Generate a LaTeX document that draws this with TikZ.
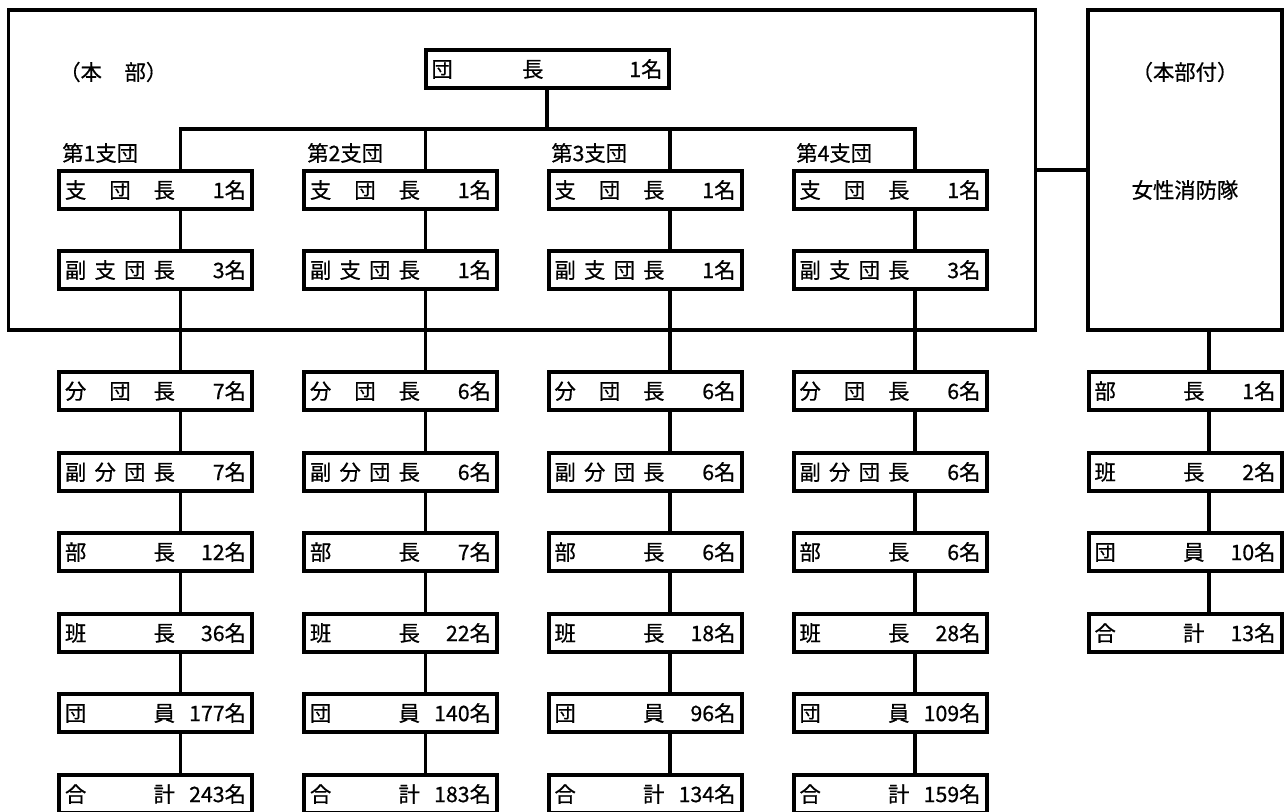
\documentclass[tikz,border=0pt]{standalone}
\usepackage{fontspec}
\setmainfont[FakeBold=0.6]{Noto Sans CJK JP}
\usepackage{tikz}

\tikzset{
  yakubox/.style={draw, line width=3pt, minimum width=144.75pt, minimum height=28.5pt, inner xsep=4.5pt, inner ysep=0pt},
  honbubox/.style={draw, line width=2.4pt, inner sep=0pt, minimum height=240pt},
  link/.style={line width=2.4pt},
  midashi/.style={anchor=west, inner sep=0pt}
}
% label on the left, number on the right
\newcommand{\yaku}[2]{\hbox to 135.75pt{\hbox to 82.5pt{#1}\hfill #2}}

\begin{document}
\begin{tikzpicture}[x=0.75pt,y=-0.75pt,font=\fontsize{16pt}{19pt}\selectfont]
        \useasboundingbox (0,0) rectangle (1285,811);
        % frames
        \node[honbubox, minimum width=770.6pt] (honbu) at (522,170) {};
        \node[honbubox, minimum width=145.5pt] (fuzoku) at (1185,170) {};
        \node[midashi] (honbulbl) at (59,72) {（本\hspace{17pt}部）};
        \node (fuzokulbl) at (1185,72) {（本部付）};
        \node (josei) at (1185,190) {女性消防隊};
        \node[yakubox, minimum width=182.25pt] (dancho) at (547,69)
            {\hbox to 173.25pt{\hbox to 84pt{団\hfill 長}\hfill 1名}};
        % branch titles
        \node[midashi] (sidan1) at (62,153) {第1支団};
        \node[midashi] (sidan2) at (307,153) {第2支団};
        \node[midashi] (sidan3) at (551,153) {第3支団};
        \node[midashi] (sidan4) at (796,153) {第4支団};
        % 1st
        \node[yakubox] (shi1) at (155.5,190) {\yaku{支\hfill 団\hfill 長}{1名}};
        \node[yakubox] (fuku1) at (155.5,270) {\yaku{副\hfill 支\hfill 団\hfill 長}{3名}};
        \node[yakubox] (bun1) at (155.5,391) {\yaku{分\hfill 団\hfill 長}{7名}};
        \node[yakubox] (fukubun1) at (155.5,472) {\yaku{副\hfill 分\hfill 団\hfill 長}{7名}};
        \node[yakubox] (bucho1) at (155.5,552) {\yaku{部\hfill 長}{12名}};
        \node[yakubox] (hancho1) at (155.5,633) {\yaku{班\hfill 長}{36名}};
        \node[yakubox] (danin1) at (155.5,713) {\yaku{団\hfill 員}{177名}};
        \node[yakubox] (gokei1) at (155.5,794) {\yaku{合\hfill 計}{243名}};
        % 2nd
        \node[yakubox] (shi2) at (400.5,190) {\yaku{支\hfill 団\hfill 長}{1名}};
        \node[yakubox] (fuku2) at (400.5,270) {\yaku{副\hfill 支\hfill 団\hfill 長}{1名}};
        \node[yakubox] (bun2) at (400.5,391) {\yaku{分\hfill 団\hfill 長}{6名}};
        \node[yakubox] (fukubun2) at (400.5,472) {\yaku{副\hfill 分\hfill 団\hfill 長}{6名}};
        \node[yakubox] (bucho2) at (400.5,552) {\yaku{部\hfill 長}{7名}};
        \node[yakubox] (hancho2) at (400.5,633) {\yaku{班\hfill 長}{22名}};
        \node[yakubox] (danin2) at (400.5,713) {\yaku{団\hfill 員}{140名}};
        \node[yakubox] (gokei2) at (400.5,794) {\yaku{合\hfill 計}{183名}};
        % 3rd
        \node[yakubox] (shi3) at (645,190) {\yaku{支\hfill 団\hfill 長}{1名}};
        \node[yakubox] (fuku3) at (645,270) {\yaku{副\hfill 支\hfill 団\hfill 長}{1名}};
        \node[yakubox] (bun3) at (645,391) {\yaku{分\hfill 団\hfill 長}{6名}};
        \node[yakubox] (fukubun3) at (645,472) {\yaku{副\hfill 分\hfill 団\hfill 長}{6名}};
        \node[yakubox] (bucho3) at (645,552) {\yaku{部\hfill 長}{6名}};
        \node[yakubox] (hancho3) at (645,633) {\yaku{班\hfill 長}{18名}};
        \node[yakubox] (danin3) at (645,713) {\yaku{団\hfill 員}{96名}};
        \node[yakubox] (gokei3) at (645,794) {\yaku{合\hfill 計}{134名}};
        % 4th
        \node[yakubox] (shi4) at (890,190) {\yaku{支\hfill 団\hfill 長}{1名}};
        \node[yakubox] (fuku4) at (890,270) {\yaku{副\hfill 支\hfill 団\hfill 長}{3名}};
        \node[yakubox] (bun4) at (890,391) {\yaku{分\hfill 団\hfill 長}{6名}};
        \node[yakubox] (fukubun4) at (890,472) {\yaku{副\hfill 分\hfill 団\hfill 長}{6名}};
        \node[yakubox] (bucho4) at (890,552) {\yaku{部\hfill 長}{6名}};
        \node[yakubox] (hancho4) at (890,633) {\yaku{班\hfill 長}{28名}};
        \node[yakubox] (danin4) at (890,713) {\yaku{団\hfill 員}{109名}};
        \node[yakubox] (gokei4) at (890,794) {\yaku{合\hfill 計}{159名}};
        % women's unit
        \node[yakubox] (jbucho) at (1185,391) {\yaku{部\hfill 長}{1名}};
        \node[yakubox] (jhancho) at (1185,472) {\yaku{班\hfill 長}{2名}};
        \node[yakubox] (jdanin) at (1185,552) {\yaku{団\hfill 員}{10名}};
        \node[yakubox] (jgokei) at (1185,633) {\yaku{合\hfill 計}{13名}};

        % lines
        \coordinate (bar1) at (180.5,129);
        \coordinate (bar2) at (425.5,129);
        \coordinate (bar3) at (670,129);
        \coordinate (bar4) at (915,129);
        \draw[link] (dancho.south) -- (dancho.south |- bar1);
        \draw[link] ([xshift=18.75pt]shi1.north) -- (bar1) -- (bar4) -- ([xshift=18.75pt]shi4.north);
        \draw[link] (bar2) -- ([xshift=18.75pt]shi2.north);
        \draw[link] (bar3) -- ([xshift=18.75pt]shi3.north);
        \draw[link] ([xshift=18.75pt]shi1.south) -- ([xshift=18.75pt]fuku1.north)
                    ([xshift=18.75pt]fuku1.south) -- ([xshift=18.75pt]bun1.north)
                    ([xshift=18.75pt]bun1.south) -- ([xshift=18.75pt]fukubun1.north)
                    ([xshift=18.75pt]fukubun1.south) -- ([xshift=18.75pt]bucho1.north)
                    ([xshift=18.75pt]bucho1.south) -- ([xshift=18.75pt]hancho1.north)
                    ([xshift=18.75pt]hancho1.south) -- ([xshift=18.75pt]danin1.north)
                    ([xshift=18.75pt]danin1.south) -- ([xshift=18.75pt]gokei1.north);
        \draw[link] ([xshift=18.75pt]shi2.south) -- ([xshift=18.75pt]fuku2.north)
                    ([xshift=18.75pt]fuku2.south) -- ([xshift=18.75pt]bun2.north)
                    ([xshift=18.75pt]bun2.south) -- ([xshift=18.75pt]fukubun2.north)
                    ([xshift=18.75pt]fukubun2.south) -- ([xshift=18.75pt]bucho2.north)
                    ([xshift=18.75pt]bucho2.south) -- ([xshift=18.75pt]hancho2.north)
                    ([xshift=18.75pt]hancho2.south) -- ([xshift=18.75pt]danin2.north)
                    ([xshift=18.75pt]danin2.south) -- ([xshift=18.75pt]gokei2.north);
        \draw[link] ([xshift=18.75pt]shi3.south) -- ([xshift=18.75pt]fuku3.north)
                    ([xshift=18.75pt]fuku3.south) -- ([xshift=18.75pt]bun3.north)
                    ([xshift=18.75pt]bun3.south) -- ([xshift=18.75pt]fukubun3.north)
                    ([xshift=18.75pt]fukubun3.south) -- ([xshift=18.75pt]bucho3.north)
                    ([xshift=18.75pt]bucho3.south) -- ([xshift=18.75pt]hancho3.north)
                    ([xshift=18.75pt]hancho3.south) -- ([xshift=18.75pt]danin3.north)
                    ([xshift=18.75pt]danin3.south) -- ([xshift=18.75pt]gokei3.north);
        \draw[link] ([xshift=18.75pt]shi4.south) -- ([xshift=18.75pt]fuku4.north)
                    ([xshift=18.75pt]fuku4.south) -- ([xshift=18.75pt]bun4.north)
                    ([xshift=18.75pt]bun4.south) -- ([xshift=18.75pt]fukubun4.north)
                    ([xshift=18.75pt]fukubun4.south) -- ([xshift=18.75pt]bucho4.north)
                    ([xshift=18.75pt]bucho4.south) -- ([xshift=18.75pt]hancho4.north)
                    ([xshift=18.75pt]hancho4.south) -- ([xshift=18.75pt]danin4.north)
                    ([xshift=18.75pt]danin4.south) -- ([xshift=18.75pt]gokei4.north);
        \draw[link] (honbu.east) -- (fuzoku.west);
        \draw[link] ([xshift=18pt]fuzoku.south) -- ([xshift=18pt]jbucho.north)
                    ([xshift=18pt]jbucho.south) -- ([xshift=18pt]jhancho.north)
                    ([xshift=18pt]jhancho.south) -- ([xshift=18pt]jdanin.north)
                    ([xshift=18pt]jdanin.south) -- ([xshift=18pt]jgokei.north);
    \end{tikzpicture}
\end{document}
